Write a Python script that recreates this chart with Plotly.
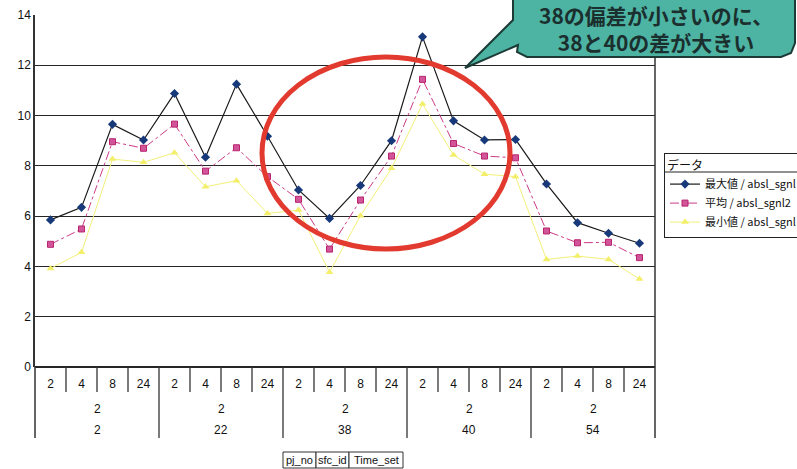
import plotly.graph_objects as go

# --- data -------------------------------------------------------------
pj_no = ["2", "22", "38", "40", "54"]
sfc_id = ["2", "2", "2", "2", "2"]
time_set = ["2", "4", "8", "24"]

max_vals = [5.85, 6.35, 9.65, 9.03, 10.88, 8.34, 11.25, 9.18, 7.04, 5.91,
            7.22, 9.00, 13.13, 9.79, 9.03, 9.05, 7.28, 5.74, 5.32, 4.92]
mean_vals = [4.88, 5.49, 8.96, 8.70, 9.66, 7.79, 8.72, 7.57, 6.67, 4.69,
             6.64, 8.39, 11.44, 8.89, 8.39, 8.32, 5.41, 4.94, 4.96, 4.35]
min_vals = [3.92, 4.56, 8.27, 8.14, 8.52, 7.17, 7.41, 6.11, 6.24, 3.77,
            6.02, 7.90, 10.46, 8.43, 7.67, 7.57, 4.28, 4.41, 4.28, 3.50]

y_ticks = [0, 2, 4, 6, 8, 10, 12, 14]
legend_title = "データ"
names = ["最大値 / absl_sgnl", "平均 / absl_sgnl2", "最小値 / absl_sgnl"]
callout_lines = ["38の偏差が小さいのに、", "38と40の差が大きい"]
field_buttons = ["pj_no", "sfc_id", "Time_set"]

# --- layout geometry (pixels) ------------------------------------------
W, H = 797, 469
L, R, T, B = 35, 655, 15, 367
n_cat = len(pj_no) * len(time_set)
x_idx = list(range(n_cat))
tick_text = time_set * len(pj_no)


def px(x):
    return (x - L) / (R - L)


def py(y):
    return (B - y) / (B - T)


FONT = "Liberation Sans, Arial, Noto Sans CJK JP, sans-serif"
JFONT = "Noto Sans CJK JP, Liberation Sans, sans-serif"

fig = go.Figure()
fig.add_trace(go.Scatter(
    x=x_idx, y=max_vals, name=names[0], mode="lines+markers",
    line=dict(color="#1a1a1a", width=1.2),
    marker=dict(symbol="diamond", size=7, color="#17397a"),
))
fig.add_trace(go.Scatter(
    x=x_idx, y=mean_vals, name=names[1], mode="lines+markers",
    line=dict(color="#cc3a86", width=1, dash="dashdot"),
    marker=dict(symbol="square", size=6, color="#d2559a",
                line=dict(color="#b8246e", width=1)),
))
fig.add_trace(go.Scatter(
    x=x_idx, y=min_vals, name=names[2], mode="lines+markers",
    line=dict(color="#f2f078", width=1),
    marker=dict(symbol="triangle-up", size=7, color="#f3ef6a"),
))

shapes = []
# right frame line of the plot area
shapes.append(dict(type="line", xref="paper", yref="paper",
                   x0=1, x1=1, y0=py(438), y1=py(0),
                   line=dict(color="#333", width=1.5)))
# left axis extension into the category table
shapes.append(dict(type="line", xref="paper", yref="paper",
                   x0=0, x1=0, y0=py(438), y1=0,
                   line=dict(color="#333", width=1.5)))
# category separators
for i in range(1, n_cat):
    major = i % len(time_set) == 0
    shapes.append(dict(type="line", xref="x", yref="paper",
                       x0=i - 0.5, x1=i - 0.5, y0=py(438 if major else 392), y1=0,
                       line=dict(color="#333", width=1.3)))

# speech bubble (rounded box with a tail pointing down-left)
bx0, bx1, by0, by1, r = 513, 795, -25, 57, 14
pts = [(bx0 + r, by1), (bx1 - r, by1), (bx1 - 4, by1 - 4), (bx1, by1 - r),
       (bx1, by0), (bx0, by0), (bx0, 20), (465, 68), (518, 45),
       (bx0 + 4, by1 - 5)]
bubble = "M " + " L ".join(f"{px(a):.5f},{py(b):.5f}" for a, b in pts) + " Z"
shapes.append(dict(type="path", xref="paper", yref="paper", path=bubble,
                   fillcolor="#4db4a4", line=dict(color="#1d3b36", width=2),
                   layer="above"))
# red emphasis ellipse
shapes.append(dict(type="circle", xref="paper", yref="paper",
                   x0=px(262), x1=px(510), y0=py(249), y1=py(57),
                   line=dict(color="#e23a2f", width=5), layer="above"))
# legend title separator
shapes.append(dict(type="line", xref="paper", yref="paper",
                   x0=px(664), x1=px(800), y0=py(172), y1=py(172),
                   line=dict(color="#222", width=1)))
# field buttons
bx = [283, 316, 349, 403]
for i in range(3):
    shapes.append(dict(type="rect", xref="paper", yref="paper",
                       x0=px(bx[i]), x1=px(bx[i + 1]), y0=py(468), y1=py(452),
                       line=dict(color="#333", width=1), fillcolor="white"))

annotations = []
for g in range(len(pj_no)):
    cx = g * len(time_set) + (len(time_set) - 1) / 2
    annotations.append(dict(x=cx, y=py(409), xref="x", yref="paper",
                            xanchor="center", yanchor="middle",
                            text=sfc_id[g], showarrow=False,
                            font=dict(family=FONT, size=12, color="#111")))
    annotations.append(dict(x=cx, y=py(430), xref="x", yref="paper",
                            xanchor="center", yanchor="middle",
                            text=pj_no[g], showarrow=False,
                            font=dict(family=FONT, size=12, color="#111")))
for i, t in enumerate(field_buttons):
    annotations.append(dict(x=px((bx[i] + bx[i + 1]) / 2), y=py(460),
                            xref="paper", yref="paper",
                            xanchor="center", yanchor="middle",
                            text=t, showarrow=False,
                            font=dict(family=FONT, size=11, color="#111")))
# callout text, two centred lines
annotations.append(dict(x=px(656), y=py(28), xref="paper", yref="paper",
                        xanchor="center", yanchor="middle", align="center",
                        text="<b>" + "<br>".join(callout_lines) + "</b>",
                        showarrow=False,
                        font=dict(family=JFONT, size=21, color="#1b302e")))

fig.update_layout(
    width=W, height=H,
    margin=dict(l=L, r=W - R, t=T, b=H - B, autoexpand=False),
    paper_bgcolor="white", plot_bgcolor="white",
    font=dict(family=FONT, size=12, color="#111"),
    showlegend=True,
    legend=dict(
        xref="container", yref="container",
        x=664 / W, y=1 - 153 / H, xanchor="left", yanchor="top",
        title=dict(text=legend_title, font=dict(family=JFONT, size=12)),
        bordercolor="#222", borderwidth=1, bgcolor="rgba(255,255,255,0)",
        font=dict(family=JFONT, size=11, color="#111"),
        itemwidth=30, tracegroupgap=0,
    ),
    xaxis=dict(
        range=[-0.5, n_cat - 0.5], tickmode="array", tickvals=x_idx,
        ticktext=tick_text, showgrid=False, zeroline=False, ticks="",
        showline=False, tickfont=dict(size=12), automargin=False,
        ticklabelstandoff=8,
    ),
    yaxis=dict(
        range=[0, 14], tickmode="array", tickvals=y_ticks,
        showgrid=True, gridcolor="#262626", gridwidth=1.3,
        zeroline=True, zerolinecolor="#262626", zerolinewidth=1.5,
        showline=True, linecolor="#333", linewidth=1.5, ticks="",
        tickfont=dict(size=12), automargin=False,
    ),
    shapes=shapes, annotations=annotations,
)

fig.write_html("out.html")
